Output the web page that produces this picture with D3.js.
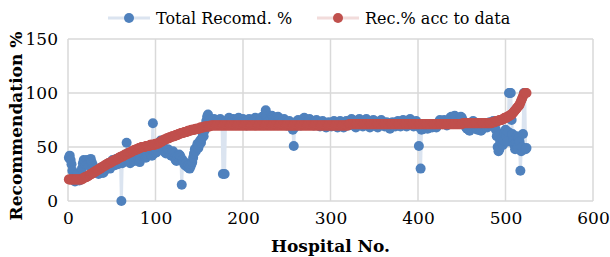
<!DOCTYPE html>
<html><head><meta charset="utf-8">
<script src="https://cdn.jsdelivr.net/npm/d3@7"></script>
<style>body{margin:0;background:#fff}svg{display:block}</style>
</head><body>
<script>
const seriesNames = ["Total Recomd. %", "Rec.% acc to data"];
const xTicks = [0,100,200,300,400,500,600];
const yTicks = [0,50,100,150];
const xTitle = "Hospital No.";
const yTitle = "Recommendation %";

const totalRecomd = [
40,42,38,34,28,22,19,18,19,21,25,20,19,22,26,30,35,38,37,34,
36,38,35,33,37,39,36,34,32,30,28,27,29,26,25,27,29,31,28,26,
27,29,31,30,33,35,32,30,34,36,38,35,33,37,39,36,34,38,40,37,
0,35,38,40,42,39,54,44,40,37,35,38,41,42,39,37,40,43,44,41,
38,36,39,42,44,45,43,41,40,42,44,46,47,45,43,42,72,44,46,45,
45,47,50,52,54,56,55,52,49,47,45,44,46,48,47,45,43,42,44,46,
43,40,38,37,39,41,43,42,40,15,38,36,34,33,35,32,31,33,30,32,
34,36,40,44,48,46,50,53,49,52,56,54,58,62,60,65,70,74,78,80,
74,76,75,73,72,74,76,75,73,74,72,73,75,76,74,73,25,73,25,73,
74,72,75,77,76,73,71,74,76,75,73,72,74,76,77,75,73,72,74,76,
75,73,71,70,72,74,76,75,73,72,71,73,75,77,76,74,72,71,73,75,
77,78,76,74,79,84,78,76,74,73,75,77,79,78,76,74,73,75,77,78,
76,74,72,71,73,75,76,74,72,70,71,73,74,72,70,68,66,51,68,70,
72,74,75,73,71,70,72,74,76,77,75,73,71,72,74,76,75,73,72,71,
70,72,74,75,73,71,70,69,71,73,74,72,70,69,68,70,72,73,71,70,
69,71,73,74,72,70,69,68,70,72,74,73,71,69,68,70,72,74,73,71,
70,72,74,76,75,73,71,69,68,70,72,75,76,74,72,70,69,71,73,75,
76,74,72,70,68,69,71,73,75,74,72,70,69,68,70,72,74,75,73,71,
70,69,71,73,72,70,68,67,69,71,73,72,70,69,71,73,74,72,70,69,
71,73,75,74,72,70,69,71,73,75,76,74,72,70,69,71,73,74,72,70,
51,68,30,66,67,68,67,68,69,68,67,68,69,70,69,68,70,71,70,69,
68,70,72,73,75,74,72,71,73,75,74,72,70,71,73,75,77,78,76,74,
78,79,77,75,73,72,74,76,78,77,75,73,71,70,68,67,69,66,65,68,
70,72,74,73,71,69,67,66,68,70,67,65,66,68,70,72,71,69,68,70,
72,73,71,70,72,74,73,71,66,60,50,46,48,55,62,58,52,56,63,66,
60,55,64,100,100,100,75,62,56,52,48,54,60,50,58,55,28,46,50,62,100,100,48,49
];

const recAccData = [
20,20,20,20,20,20,20,20,20,20,20,20,20,20,20,20,21,21,22,22,
22,23,23,24,24,25,25,26,26,27,27,28,28,29,29,30,30,31,31,32,
32,33,33,34,34,35,35,35,36,36,37,37,38,38,38,39,39,40,40,41,
41,41,42,42,43,43,43,44,44,45,45,45,46,46,47,47,47,48,48,48,
49,49,49,50,50,50,50,50,51,51,51,51,51,52,52,52,52,52,52,53,
53,53,53,54,54,55,55,56,56,57,57,57,58,58,58,59,59,59,60,60,
60,60,61,61,61,62,62,62,63,63,63,63,64,64,64,64,65,65,65,65,
66,66,66,66,66,67,67,67,67,67,68,68,68,68,68,69,69,69,69,69,
69,69,70,70,70,70,70,70,70,70,70,70,70,70,70,70,70,70,70,70,
70,70,70,70,70,70,70,70,70,70,70,70,70,70,70,70,70,70,70,70,
70,70,70,70,70,70,70,70,70,70,70,70,70,70,70,70,70,70,70,70,
70,70,70,70,70,70,70,70,70,70,70,70,70,70,70,70,70,70,70,70,
70,70,70,70,70,70,70,70,70,70,70,70,70,70,70,70,70,70,70,70,
70,70,70,70,70,70,70,70,70,70,70,70,70,70,70,70,70,70,70,70,
70,70,70,70,70,70,70,70,70,70,70,70,70,70,70,70,70,70,70,70,
70,70,70,70,70,70,70,70,70,70,70,70,70,70,70,70,70,70,70,70,
71,71,71,71,71,71,71,71,71,71,71,71,71,71,71,71,71,71,71,71,
71,71,71,71,71,71,71,71,71,71,71,71,71,71,71,71,71,71,71,71,
71,71,71,71,71,71,71,71,71,71,71,71,71,71,71,71,71,71,71,71,
71,71,71,71,71,71,71,71,71,71,71,71,71,71,71,71,71,71,71,71,
71,71,71,71,71,71,71,71,71,71,71,71,71,71,71,71,71,71,71,71,
71,71,71,71,71,71,71,71,71,71,71,71,71,71,71,71,71,71,71,71,
71,71,71,71,71,71,71,71,71,71,72,72,72,72,72,72,72,72,72,72,
72,72,72,72,72,72,72,72,72,72,72,72,72,72,72,72,72,72,72,72,
72,72,72,72,73,73,73,73,74,74,74,74,75,75,75,75,76,76,77,77,
77,78,78,79,79,80,80,81,82,83,84,85,86,87,88,89,91,93,95,97,99,100,100,100
];

const W = 610, H = 257;
const svg = d3.select("body").append("svg").attr("width",W).attr("height",H);
const x = d3.scaleLinear().domain([0,600]).range([68, 593]);
const y = d3.scaleLinear().domain([0,150]).range([201, 39]);
const font = "'DejaVu Serif', serif";

// gridlines
svg.append("g").selectAll("line").data(xTicks).join("line")
  .attr("x1",d=>x(d)).attr("x2",d=>x(d)).attr("y1",y(0)).attr("y2",y(150))
  .attr("stroke","#d9d9d9").attr("stroke-width",1.5);
svg.append("g").selectAll("line").data(yTicks).join("line")
  .attr("x1",x(0)).attr("x2",x(600)).attr("y1",d=>y(d)).attr("y2",d=>y(d))
  .attr("stroke","#d9d9d9").attr("stroke-width",1.5);

// axes labels
const xAxis = svg.append("g").attr("transform",`translate(0,${y(0)})`)
  .call(d3.axisBottom(x).tickValues(xTicks).tickSize(0).tickPadding(11));
xAxis.select(".domain").remove();
xAxis.selectAll("text").attr("font-family",font).attr("font-size",17).attr("fill","#000");
const yAxis = svg.append("g").attr("transform",`translate(${x(0)},0)`)
  .call(d3.axisLeft(y).tickValues(yTicks).tickSize(0).tickPadding(10));
yAxis.select(".domain").remove();
yAxis.selectAll("text").attr("font-family",font).attr("font-size",17).attr("fill","#000");

svg.append("text").attr("x",(x(0)+x(600))/2).attr("y",252).attr("text-anchor","middle")
  .attr("font-family",font).attr("font-weight","bold").attr("font-size",17).text(xTitle);
svg.append("text").attr("transform",`translate(22,${(y(0)+y(150))/2 + 6}) rotate(-90)`)
  .attr("text-anchor","middle").attr("font-family",font).attr("font-weight","bold")
  .attr("font-size",17).text(yTitle);

const colors = ["#4f81bd","#c0504d"];
const lineColors = ["#dbe4f0","#f2dcdb"];
const data = [totalRecomd, recAccData];
const line = d3.line().x((d,i)=>x(i+1)).y(d=>y(d));
data.forEach((s,k)=>{
  svg.append("path").datum(s).attr("d",line).attr("fill","none")
    .attr("stroke",lineColors[k]).attr("stroke-width",3);
  svg.append("g").selectAll("circle").data(s).join("circle")
    .attr("cx",(d,i)=>x(i+1)).attr("cy",d=>y(d)).attr("r",5)
    .attr("fill",colors[k]);
});

// legend
const leg = [{x0:108,name:seriesNames[0]},{x0:317,name:seriesNames[1]}];
leg.forEach((l,k)=>{
  const g = svg.append("g");
  g.append("line").attr("x1",l.x0).attr("x2",l.x0+42).attr("y1",18).attr("y2",18)
    .attr("stroke",lineColors[k]).attr("stroke-width",3);
  g.append("circle").attr("cx",l.x0+21).attr("cy",18).attr("r",5).attr("fill",colors[k]);
  g.append("text").attr("x",l.x0+48).attr("y",24).attr("font-family",font)
    .attr("font-size",16).attr("fill","#000").text(l.name);
});
</script>
</body></html>
